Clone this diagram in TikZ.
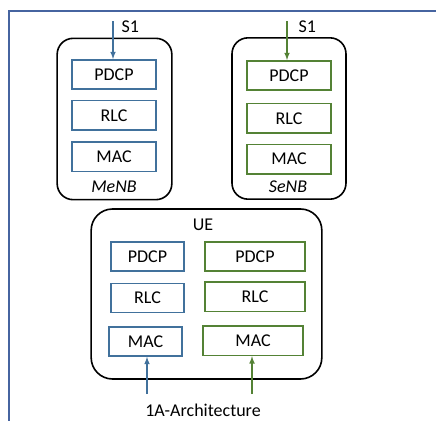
\documentclass[tikz,border=0pt]{standalone}
\usepackage{fontspec}
\setmainfont{Carlito}
\usetikzlibrary{arrows,positioning}
\definecolor{layerblue}{RGB}{65,113,156}
\definecolor{layergreen}{RGB}{84,130,53}
\definecolor{frameblue}{RGB}{70,100,160}
\tikzset{
	auto,
	station/.style={
		rectangle, rounded corners=12pt, line width=1.2pt, draw=black
	},
	%
	bluelayer/.style={
		rectangle, minimum width=63pt, minimum height=22pt, inner sep=0pt,
		line width=1.1pt, draw=layerblue
	},
	%
	greenlayer/.style={
		rectangle, minimum width=63pt, minimum height=22pt, inner sep=0pt,
		line width=1.1pt, draw=layergreen
	},
	%
	mytextbox/.style={
		rectangle, inner sep=1pt, text=black
	}
}

\begin{document}
\begin{tikzpicture}[x=0.75pt, y=-0.75pt, font=\fontsize{13.5}{16}\selectfont]
    \useasboundingbox (0,0) rectangle (436,421);
    \draw[line width=1.5pt, color=frameblue] (9,421) -- (9,11) -- (436,11);
    % MeNB
    \node(MeNB)[station, minimum width=86pt, minimum height=121pt] at (114.5,119){};
    \node(MePDCP)[bluelayer] at (114,74.5){PDCP};
    \node(MeRLC)[bluelayer, below=7.5pt of MePDCP]{RLC};
    \node(MeMAC)[bluelayer, below=8pt of MeRLC]{MAC};
    \node(MeName)[mytextbox] at (114,187){\textit{MeNB}};
    \coordinate(MeIn) at (113,21);
    \node(MeS1)[mytextbox, anchor=west] at (120,27){S1};
    \draw[-latex, line width=0.9pt, color=layerblue] (MeIn) -- (MePDCP.north -| MeIn);
    % SeNB
    \node(SeNB)[station, minimum width=85.5pt, minimum height=121pt] at (289,118.5){};
    \node(SePDCP)[greenlayer] at (289,75.5){PDCP};
    \node(SeRLC)[greenlayer, below=9pt of SePDCP]{RLC};
    \node(SeMAC)[greenlayer, below=7.5pt of SeRLC]{MAC};
    \node(SeName)[mytextbox] at (288,187){\textit{SeNB}};
    \coordinate(SeIn) at (287,21);
    \node(SeS1)[mytextbox, anchor=west] at (297,27){S1};
    \draw[-latex, line width=0.9pt, color=layergreen] (SeIn) -- (SePDCP.north -| SeIn);
    % UE
    \node(UE)[station, rounded corners=16pt, minimum width=173pt, minimum height=127.5pt] at (206.5,294){};
    \node(UEName)[mytextbox] at (203,225){UE};
    \node(UEbPDCP)[bluelayer, minimum width=55pt] at (147.5,256.5){PDCP};
    \node(UEbRLC)[bluelayer, minimum width=55pt, below=8pt of UEbPDCP]{RLC};
    \node(UEbMAC)[bluelayer, minimum width=55pt, below=9.5pt of UEbRLC, xshift=-1.5pt]{MAC};
    \node(UEgPDCP)[greenlayer, minimum width=75pt] at (255,256.5){PDCP};
    \node(UEgRLC)[greenlayer, minimum width=75pt, below=7pt of UEgPDCP]{RLC};
    \node(UEgMAC)[greenlayer, minimum width=75pt, below=10pt of UEgRLC, xshift=-1.5pt]{MAC};
    \node(Arch)[mytextbox] at (203,410){1A-Architecture};
    \coordinate(UEbIn) at (147,394);
    \coordinate(UEgIn) at (252,394);
    \draw[-latex, line width=0.9pt, color=layerblue] (UEbIn) -- (UEbMAC.south -| UEbIn);
    \draw[-latex, line width=0.9pt, color=layergreen] (UEgIn) -- (UEgMAC.south -| UEgIn);
\end{tikzpicture}
\end{document}
